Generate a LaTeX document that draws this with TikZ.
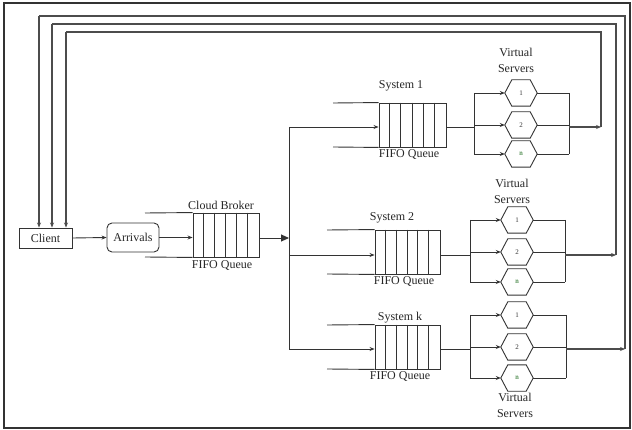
\documentclass[tikz,border=0pt]{standalone}
\usepackage{fontspec}
\setmainfont{Liberation Serif}
\usetikzlibrary{arrows.meta,calc}
\tikzset{
  ln/.style={draw=black!80, line width=0.9pt},
  arr/.style={ln, -{Stealth[length=5pt,width=4pt]}},
  bigarr/.style={ln, -{Triangle[length=8pt,width=7pt]}},
  fb/.style={draw=black!70, line width=1.2pt},
  fbarr/.style={fb, -{Stealth[length=5pt,width=4pt]}},
  lbl/.style={font=\fontsize{12}{14}\selectfont, text=black!85, inner sep=0pt},
  vlbl/.style={font=\fontsize{12}{16}\selectfont, text=black!85, inner sep=0pt, align=center},
  sqbox/.style={ln, draw, minimum width=53pt, minimum height=20pt, inner sep=0pt, font=\fontsize{12}{14}\selectfont, text=black!85},
  rbox/.style={ln, draw, rounded corners=5pt, minimum width=52pt, minimum height=29pt, inner sep=0pt, font=\fontsize{12}{14}\selectfont, text=black!85},
  qbox/.style={ln, draw, minimum height=44pt, inner sep=0pt},
  hexa/.style={minimum width=32pt, minimum height=26pt, inner sep=0pt, font=\fontsize{7}{8}\selectfont, text=black!80},
}
\begin{document}
\begin{tikzpicture}[x=1pt,y=-1pt]
\path[use as bounding box] (0,0) rectangle (632,430);
\draw[draw=black!80, line width=1.3pt] (4,3) rectangle (630,428);

% client and arrivals
\node[sqbox] (client) at (45.5,238) {Client};
\node[rbox] (arr) at (133,237.5) {Arrivals};

% cloud broker queue
\node[qbox, minimum width=66pt] (bq) at (226,235) {};
\coordinate (bqs) at (145,213);
\coordinate (bqe) at (145,257);
\draw[ln] (bqs) -- (bq.north west);
\draw[ln] (bqe) -- (bq.south west);
\foreach \i in {1,...,5} \draw[ln] ($(bq.north west)+(11*\i,0)$) -- ($(bq.south west)+(11*\i,0)$);
\node[lbl] (bqt) at (221,205) {Cloud Broker};
\node[lbl] (bqf) at (222,266) {FIFO Queue};
\draw[arr] (client.east) -- (arr.west);
\draw[arr] (arr.east) -- (arr.east -| bq.west);

% distribution
\coordinate (dv) at (289,238);
\coordinate (d1) at (289,127);
\coordinate (d2) at (289,255);
\coordinate (d3) at (289,349);
\draw[bigarr] (bq.east |- dv) -- (dv);
\draw[ln] (d1) -- (d3);

% system queues
\node[qbox, minimum width=67pt] (q1) at (412.5,125) {};
\node[qbox, minimum width=65pt] (q2) at (407.5,252) {};
\node[qbox, minimum width=65pt] (q3) at (407.5,347) {};
\coordinate (q1s) at (333,103); \coordinate (q1e) at (333,147);
\coordinate (q2s) at (327,230); \coordinate (q2e) at (327,274);
\coordinate (q3s) at (327,325); \coordinate (q3e) at (327,369);
\foreach \q in {q1,q2,q3}{
  \draw[ln] (\q s) -- (\q.north west);
  \draw[ln] (\q e) -- (\q.south west);
}
\foreach \i in {1,...,5}{
  \draw[ln] ($(q1.north west)+(11.17*\i,0)$) -- ($(q1.south west)+(11.17*\i,0)$);
  \draw[ln] ($(q2.north west)+(10.83*\i,0)$) -- ($(q2.south west)+(10.83*\i,0)$);
  \draw[ln] ($(q3.north west)+(10.83*\i,0)$) -- ($(q3.south west)+(10.83*\i,0)$);
}
\draw[arr] (d1) -- (d1 -| q1.west);
\draw[arr] (d2) -- (d2 -| q2.west);
\draw[arr] (d3) -- (d3 -| q3.west);

\node[lbl] (q1t) at (401,86) {System 1};
\node[lbl] (q1f) at (409,155) {FIFO Queue};
\node[lbl] (q2t) at (392,218) {System 2};
\node[lbl] (q2f) at (404,282) {FIFO Queue};
\node[lbl] (q3t) at (400,318) {System k};
\node[lbl] (q3f) at (400,377) {FIFO Queue};

% virtual servers
\node[hexa] (h11) at (521,93) {1};
\node[hexa] (h12) at (521,125) {2};
\node[hexa, text=green!35!black] (h13) at (521,154) {n};
\node[hexa] (h21) at (517,220) {1};
\node[hexa] (h22) at (517,252) {2};
\node[hexa, text=green!35!black] (h23) at (517,282) {n};
\node[hexa] (h31) at (517,315) {1};
\node[hexa] (h32) at (517,347) {2};
\node[hexa, text=green!35!black] (h33) at (517,378) {n};
\foreach \h in {h11,h12,h13,h21,h22,h23,h31,h32,h33}
  \draw[ln] (\h.west) -- ([xshift=7pt]\h.north west) -- ([xshift=-7pt]\h.north east) -- (\h.east) -- ([xshift=-7pt]\h.south east) -- ([xshift=7pt]\h.south west) -- cycle;

\node[vlbl] (v1) at (516,60) {Virtual\\Servers};
\node[vlbl] (v2) at (512,191) {Virtual\\Servers};
\node[vlbl] (v3) at (515,405) {Virtual\\Servers};

% split / merge for each system
\coordinate (s1) at (474,127); \coordinate (m1) at (569,127);
\coordinate (s2) at (470,255); \coordinate (m2) at (565,255);
\coordinate (s3) at (470,349); \coordinate (m3) at (566,349);
\draw[ln] (q1.east |- s1) -- (s1);
\draw[ln] (q2.east |- s2) -- (s2);
\draw[ln] (q3.east |- s3) -- (s3);
\draw[ln] (s1 |- h11) -- (s1 |- h13);
\draw[ln] (s2 |- h21) -- (s2 |- h23);
\draw[ln] (s3 |- h31) -- (s3 |- h33);
\draw[ln] (m1 |- h11) -- (m1 |- h13);
\draw[ln] (m2 |- h21) -- (m2 |- h23);
\draw[ln] (m3 |- h31) -- (m3 |- h33);
\foreach \s/\m/\a/\b/\c in {s1/m1/h11/h12/h13, s2/m2/h21/h22/h23, s3/m3/h31/h32/h33}{
  \draw[arr] (\s |- \a) -- (\a.west);
  \draw[arr] (\s |- \b) -- (\b.west);
  \draw[arr] (\s |- \c) -- (\c.west);
  \draw[ln] (\a.east) -- (\m |- \a);
  \draw[ln] (\b.east) -- (\m |- \b);
  \draw[ln] (\c.east) -- (\m |- \c);
}

% feedback loops
\coordinate (r1) at (601,127); \coordinate (t1) at (601,32); \coordinate (l1) at (66,32);
\coordinate (r2) at (616,255); \coordinate (t2) at (616,24); \coordinate (l2) at (52,24);
\coordinate (r3) at (625,349); \coordinate (t3) at (625,16); \coordinate (l3) at (39,16);
\draw[fbarr] (m1) -- (r1);
\draw[fbarr] (m2) -- (r2);
\draw[fbarr] (m3) -- (r3);
\draw[fb] (r1) -- (t1) -- (l1);
\draw[fb] (r2) -- (t2) -- (l2);
\draw[fb] (r3) -- (t3) -- (l3);
\draw[fbarr] (l1) -- (l1 |- client.north);
\draw[fbarr] (l2) -- (l2 |- client.north);
\draw[fbarr] (l3) -- (l3 |- client.north);
\end{tikzpicture}
\end{document}
